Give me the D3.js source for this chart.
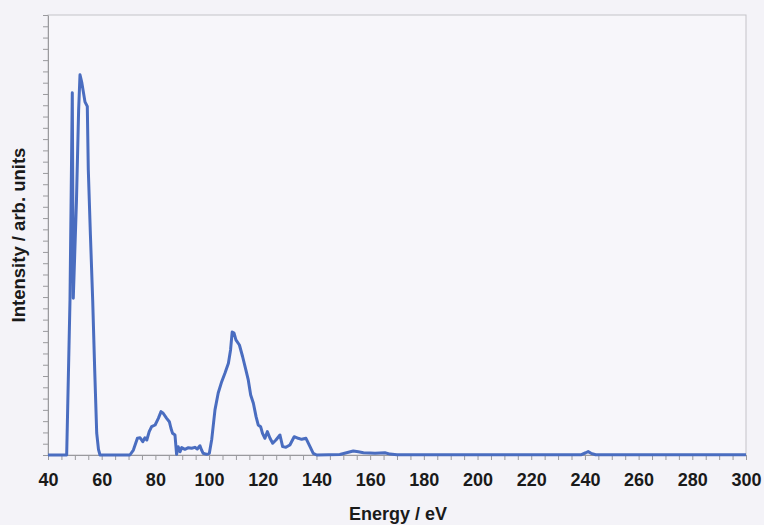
<!DOCTYPE html>
<html>
<head>
<meta charset="utf-8">
<script src="https://cdn.jsdelivr.net/npm/d3@7"></script>
<style>
  html, body { margin: 0; padding: 0; background: #f4f3f8; }
  svg { display: block; }
  text { font-family: "Liberation Sans", Arial, sans-serif; font-weight: bold; fill: #1a1a1a; }
</style>
</head>
<body>
<svg id="chart" width="764" height="525"></svg>
<script>
// Energy (eV) and intensity (arb. units)
const energy = [
  40, 46.96, 48.19, 49.05, 49.42, 50.6, 51.4, 51.92, 52.6, 53.78, 54.64, 55.01, 55.8, 56.65, 57.4, 58.14, 58.8, 59.37,
  65, 70.5, 71.8, 73.3, 74.3, 75.3, 76.1, 76.8, 77.7, 78.6, 79.9, 81.1, 82.1, 82.9, 84.2, 85.2, 85.8, 86.4, 87.3,
  87.9, 88.5, 89.2, 89.8, 91.0, 92.3, 93.5, 94.7, 95.6, 96.6, 97.2, 97.8, 99.1, 100.1,
  101.0, 102.2, 103.4, 104.7, 105.9, 107.2, 108.0, 108.6, 109.3, 110.0, 111.3, 112.5, 113.7, 114.6, 115.5, 116.5,
  117.5, 118.3, 119.2, 119.9, 120.8, 121.7, 122.7, 123.7, 124.9, 126.4, 127.4, 128.6, 130.1, 131.7, 133.2, 134.5,
  136.1, 137.6, 138.8, 140.1,
  148.7, 151.2, 153.7, 155.6, 157.5, 160, 161.8, 165.5, 167.4, 170,
  238.5, 240.3, 241.2, 242.3, 244, 300
];
const intensity = [
  0, 0, 13.7, 32.1, 13.9, 22.5, 30.5, 33.7, 33.0, 31.3, 30.9, 25.3, 19.5, 13.7, 7.5, 1.95, 0.5, 0,
  0, 0, 0.44, 1.48, 1.53, 1.18, 1.53, 1.33, 2.07, 2.51, 2.66, 3.25, 3.84, 3.70, 3.25, 2.95, 2.37, 1.92, 1.77,
  0.06, 0.74, 0.29, 0.65, 0.5, 0.65, 0.6, 0.68, 0.53, 0.82, 0.44, 0.15, 0.06, 0.15,
  1.4, 4.0, 5.5, 6.5, 7.24, 8.13, 9.31, 10.9, 10.8, 10.2, 9.75, 8.71, 7.54, 6.65, 5.32, 4.58,
  3.40, 2.66, 2.51, 1.92, 1.48, 2.07, 1.48, 1.04, 1.33, 1.77, 0.74, 0.68, 0.89, 1.62, 1.48, 1.39,
  1.48, 0.74, 0.15, 0,
  0.05, 0.2, 0.35, 0.28, 0.2, 0.18, 0.15, 0.2, 0.08, 0.02,
  0.02, 0.2, 0.3, 0.15, 0.02, 0.02
];
const xTickValues = d3.range(40, 301, 5);
const xTickLabels = [40, 60, 80, 100, 120, 140, 160, 180, 200, 220, 240, 260, 280, 300];
const yTickValues = d3.range(0, 40, 1);
const xTitle = "Energy / eV";
const yTitle = "Intensity / arb. units";

const svg = d3.select("#chart");
const W = 764, H = 525;
const m = { left: 48, right: 18, top: 15, bottom: 70 };
const pw = W - m.left - m.right;
const ph = H - m.top - m.bottom;

const x = d3.scaleLinear().domain([40, 300]).range([m.left, m.left + pw]);
const y = d3.scaleLinear().domain([0, 39]).range([m.top + ph, m.top]);

// plot area
svg.append("rect")
  .attr("x", m.left).attr("y", m.top).attr("width", pw).attr("height", ph)
  .attr("fill", "#f7f6fa").attr("stroke", "#c4c3c8").attr("stroke-width", 1);

// x axis
const xAxis = d3.axisBottom(x).tickValues(xTickValues).tickSize(5).tickSizeOuter(0)
  .tickFormat(d => xTickLabels.includes(d) ? d : "");
const gx = svg.append("g").attr("transform", `translate(0,${m.top + ph})`).call(xAxis);
gx.select(".domain").attr("stroke", "#9a9a9e");
gx.selectAll(".tick line").attr("stroke", "#9a9a9e");
gx.selectAll(".tick text").attr("font-size", 18).attr("dy", "1.3em")
  .style("font-family", "'Liberation Sans', Arial, sans-serif").style("font-weight", "bold").attr("fill", "#1a1a1a");

// y axis
const yAxis = d3.axisLeft(y).tickValues(yTickValues).tickSize(5).tickSizeOuter(0).tickFormat("");
const gy = svg.append("g").attr("transform", `translate(${m.left},0)`).call(yAxis);
gy.select(".domain").attr("stroke", "#9a9a9e");
gy.selectAll(".tick line").attr("stroke", "#9a9a9e");

// line
const line = d3.line().x((d, i) => x(energy[i])).y(d => y(d));
svg.append("path")
  .datum(intensity)
  .attr("d", line)
  .attr("fill", "none")
  .attr("stroke", "#4a6dc0")
  .attr("stroke-width", 3)
  .attr("stroke-linejoin", "round");

// titles
svg.append("text")
  .attr("x", m.left + pw / 2 + 1).attr("y", 520)
  .attr("text-anchor", "middle").attr("font-size", 18)
  .text(xTitle);
svg.append("text")
  .attr("transform", `translate(25,${m.top + ph / 2}) rotate(-90)`)
  .attr("text-anchor", "middle").attr("font-size", 18.5)
  .text(yTitle);
</script>
</body>
</html>
